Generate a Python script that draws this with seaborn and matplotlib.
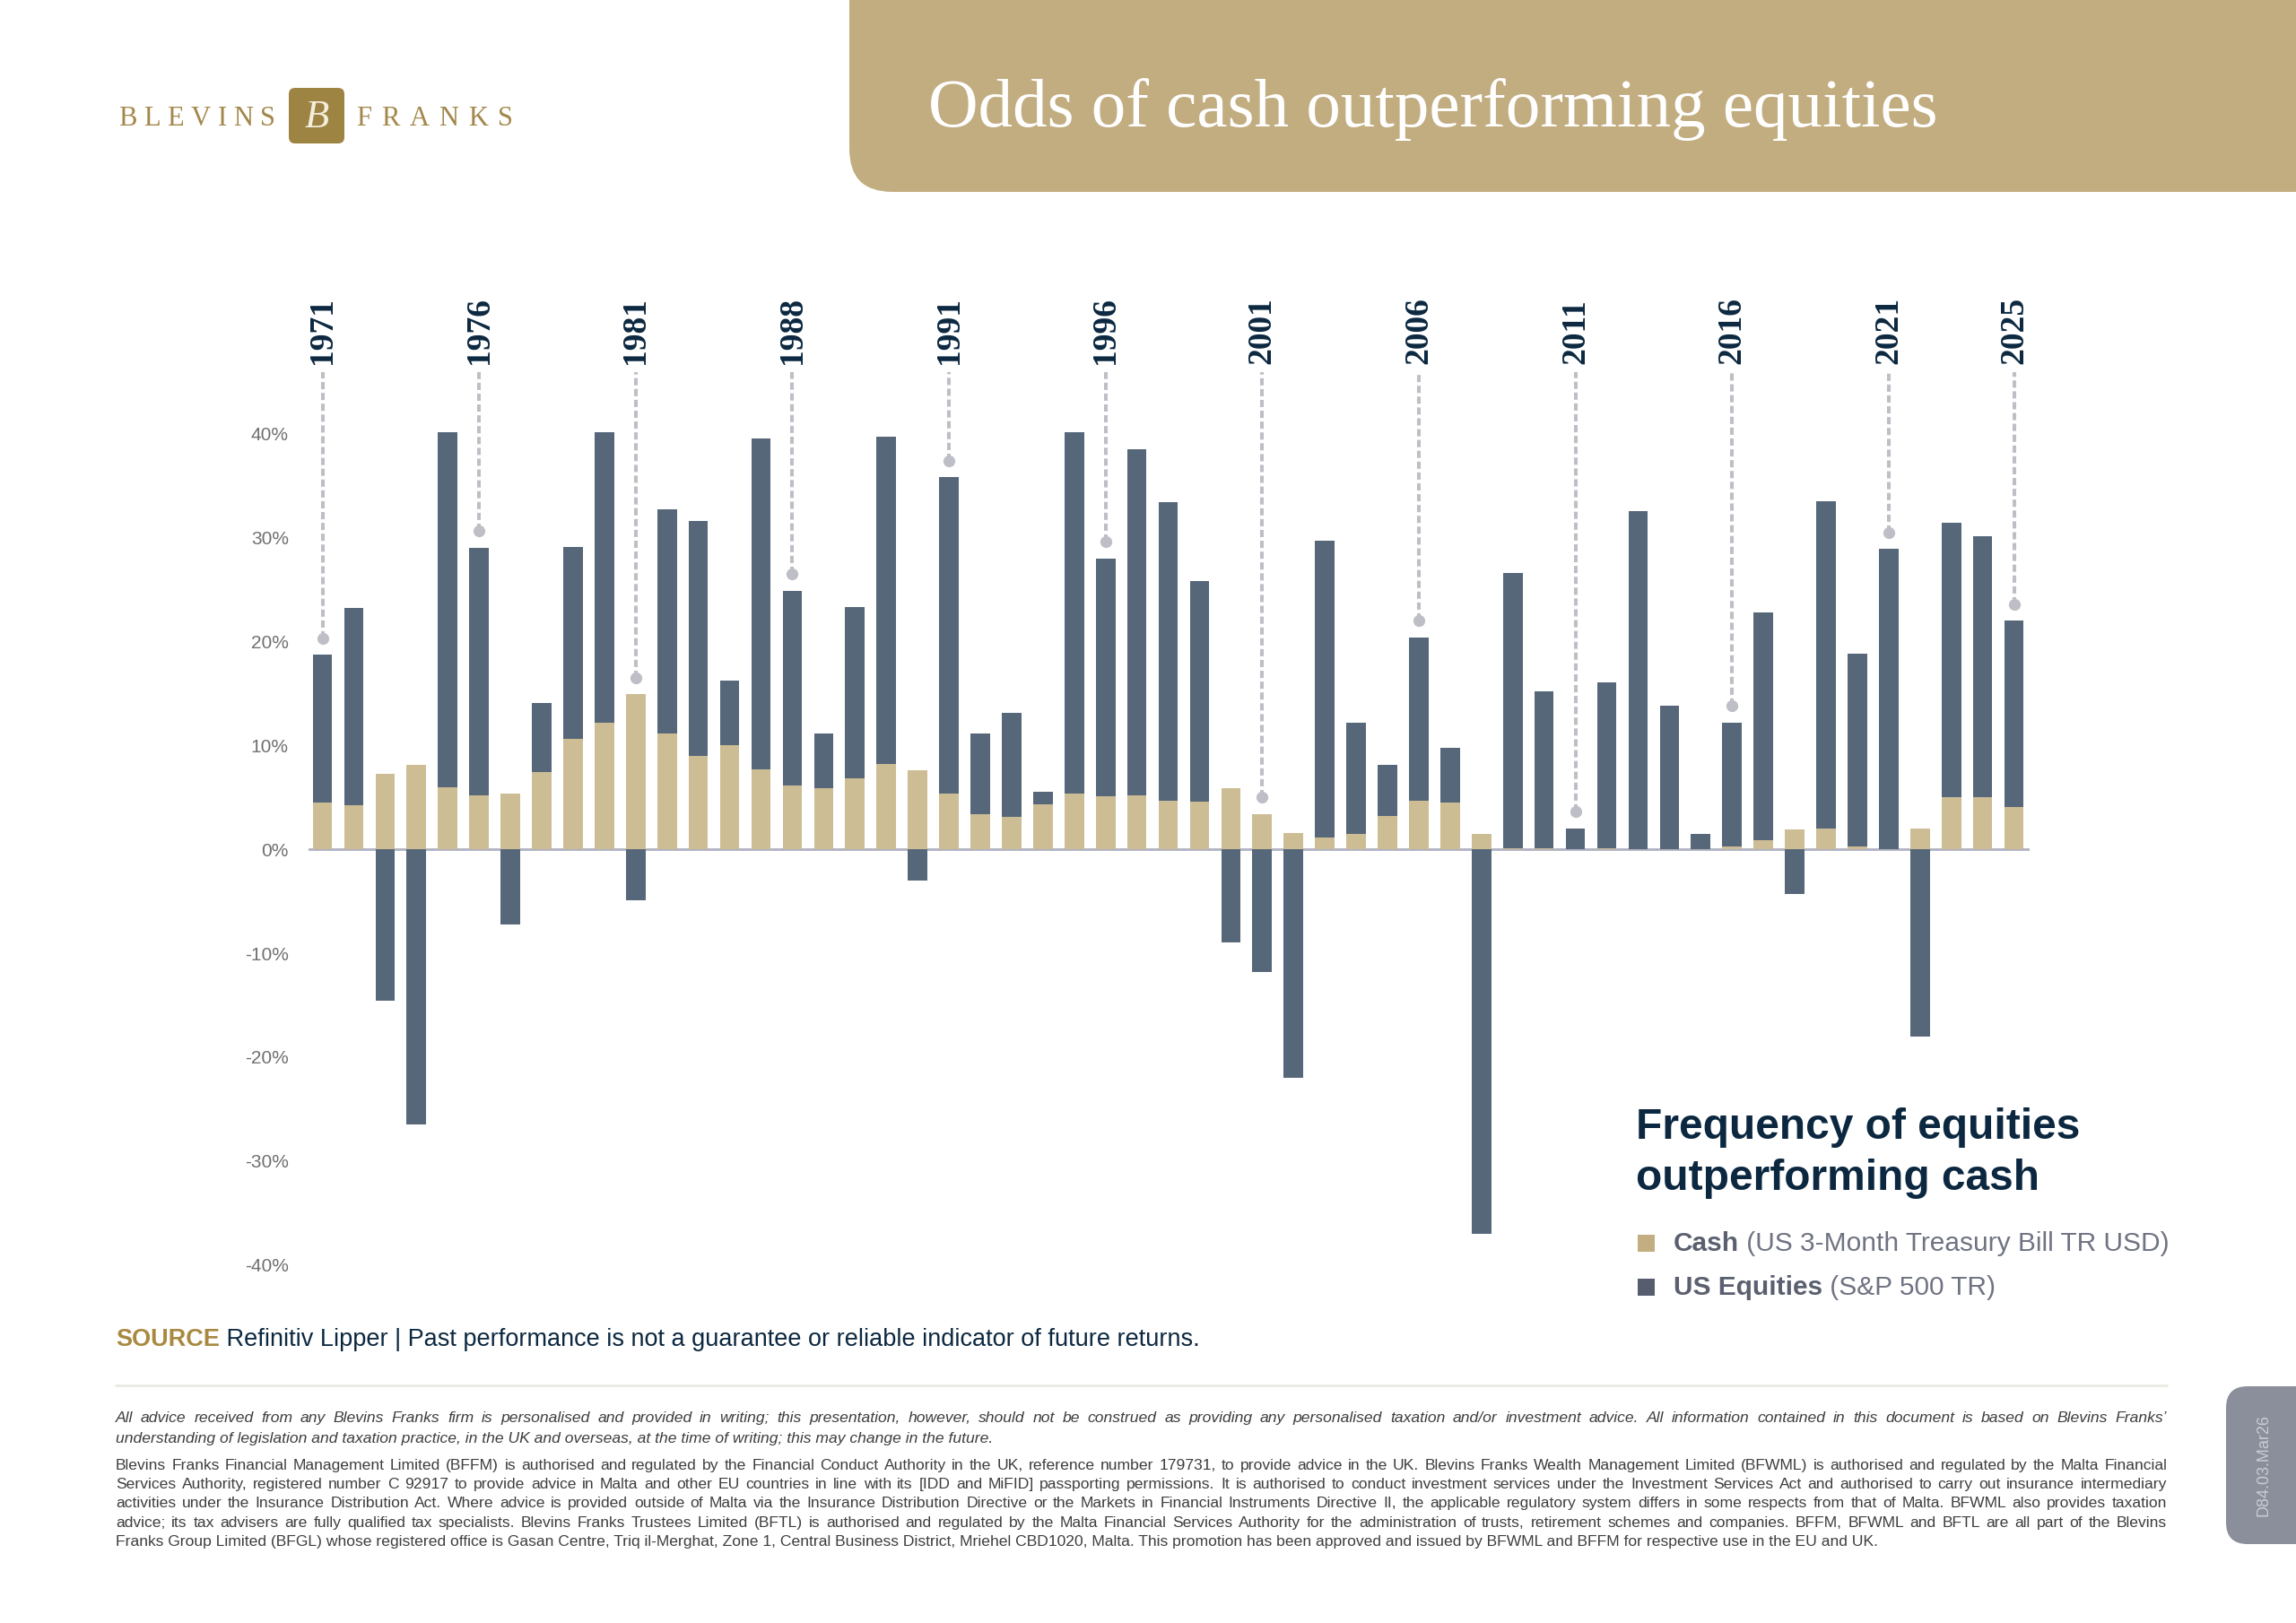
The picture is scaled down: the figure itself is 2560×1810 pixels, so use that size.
"""Odds of cash outperforming equities: US T-bills vs S&P 500, 1971-2025."""

import matplotlib

matplotlib.use("Agg")

import matplotlib.pyplot as plt
import pandas as pd
import seaborn as sns
from matplotlib.patches import FancyBboxPatch, Rectangle


# annual returns (%)
years = list(range(1971, 2026))
equities = [
    18.7, 23.2, -14.6, -26.5, 40.1, 29.0, -7.2, 14.1, 29.1, 40.1,
    -4.9, 32.7, 31.6, 16.2, 39.5, 24.9, 11.1, 23.3, 39.7, -3.0,
    35.8, 11.1, 13.1, 5.5, 40.1, 28.0, 38.5, 33.4, 25.8, -9.0,
    -11.8, -22.0, 29.7, 12.2, 8.1, 20.4, 9.8, -37.0, 26.6, 15.2,
    2.0, 16.1, 32.5, 13.8, 1.5, 12.2, 22.8, -4.3, 33.5, 18.8,
    28.9, -18.0, 31.4, 30.1, 22.0,
]
cash = [
    4.5, 4.2, 7.3, 8.1, 6.0, 5.2, 5.4, 7.4, 10.6, 12.2,
    14.9, 11.1, 9.0, 10.0, 7.7, 6.1, 5.9, 6.8, 8.2, 7.6,
    5.4, 3.4, 3.1, 4.3, 5.4, 5.1, 5.2, 4.7, 4.6, 5.9,
    3.4, 1.6, 1.1, 1.5, 3.2, 4.7, 4.5, 1.5, 0.1, 0.1,
    0.05, 0.1, 0.05, 0.05, 0.05, 0.3, 0.9, 1.9, 2.0, 0.3,
    0.05, 2.0, 5.0, 5.0, 4.1,
]
callout_years = [1971, 1976, 1981, 1986, 1991, 1996, 2001, 2006, 2011, 2016, 2021, 2025]
callout_labels = ["1971", "1976", "1981", "1988", "1991", "1996", "2001", "2006", "2011", "2016", "2021", "2025"]
y_ticks = [40, 30, 20, 10, 0, -10, -20, -30, -40]

TITLE = "Odds of cash outperforming equities"
LEGEND_TITLE = ["Frequency of equities", "outperforming cash"]
LEGEND_ITEMS = [("Cash", " (US 3-Month Treasury Bill TR USD)"), ("US Equities", " (S&P 500 TR)")]
SOURCE_TEXT = " Refinitiv Lipper | Past performance is not a guarantee or reliable indicator of future returns."
DISCLAIMER_ITALIC = [
    "All advice received from any Blevins Franks firm is personalised and provided in writing; this presentation, however, should not be construed as providing any personalised taxation and/or investment advice. All information contained in this document is based on Blevins Franks’",
    "understanding of legislation and taxation practice, in the UK and overseas, at the time of writing; this may change in the future.",
]
DISCLAIMER = [
    "Blevins Franks Financial Management Limited (BFFM) is authorised and regulated by the Financial Conduct Authority in the UK, reference number 179731, to provide advice in the UK. Blevins Franks Wealth Management Limited (BFWML) is authorised and regulated by the Malta Financial",
    "Services Authority, registered number C 92917 to provide advice in Malta and other EU countries in line with its [IDD and MiFID] passporting permissions. It is authorised to conduct investment services under the Investment Services Act and authorised to carry out insurance intermediary",
    "activities under the Insurance Distribution Act. Where advice is provided outside of Malta via the Insurance Distribution Directive or the Markets in Financial Instruments Directive II, the applicable regulatory system differs in some respects from that of Malta. BFWML also provides taxation",
    "advice; its tax advisers are fully qualified tax specialists. Blevins Franks Trustees Limited (BFTL) is authorised and regulated by the Malta Financial Services Authority for the administration of trusts, retirement schemes and companies. BFFM, BFWML and BFTL are all part of the Blevins",
    "Franks Group Limited (BFGL) whose registered office is Gasan Centre, Triq il-Merghat, Zone 1, Central Business District, Mriehel CBD1020, Malta. This promotion has been approved and issued by BFWML and BFFM for respective use in the EU and UK.",
]

EQ_COLOR = "#56677A"
CASH_COLOR = "#CDBD95"
GOLD = "#A2874A"
BANNER = "#C2AD81"
NAVY = "#0C2840"
GUIDE = "#BEBEC6"
FOOT = "#3E3E3E"
SANS = "Liberation Sans"
SERIF = "Liberation Serif"

W, H = 2560, 1810
FOOT_SIZE = 12.6


def spread(ax, renderer, x0, x1, y, pieces, **kw):
    """Lay pieces (words or letters) out evenly between x0 and x1."""
    artists = [ax.text(0, y, p, va="baseline", ha="left", **kw) for p in pieces]
    widths = [a.get_window_extent(renderer).width for a in artists]
    gap = max((x1 - x0 - sum(widths)) / (len(pieces) - 1), 3)
    x = x0
    for a, w in zip(artists, widths):
        a.set_x(x)
        x += w + gap


def main() -> None:
    sns.set_theme(style="white")
    plt.rcParams["font.family"] = [SANS, "DejaVu Sans"]

    fig = plt.figure(figsize=(W / 100, H / 100), dpi=100, facecolor="white")
    bg = fig.add_axes([0, 0, 1, 1])
    bg.set_xlim(0, W)
    bg.set_ylim(H, 0)
    bg.axis("off")
    renderer = fig.canvas.get_renderer()

    # header banner and logo
    bg.add_patch(FancyBboxPatch((947, -120), 1800, 334, boxstyle="round,pad=0,rounding_size=48",
                                fc=BANNER, ec="none"))
    bg.text(1035, 141, TITLE, color="white", fontsize=55.5, family=SERIF, va="baseline", ha="left")
    spread(bg, renderer, 132, 307, 140, list("BLEVINS"), color=GOLD, fontsize=22, family=SERIF)
    bg.add_patch(FancyBboxPatch((322, 98), 62, 62, boxstyle="round,pad=0,rounding_size=7",
                                fc="#9E8443", ec="none"))
    bg.text(353, 131, "B", color="#F4EEDF", fontsize=32, family=SERIF, style="italic",
            ha="center", va="center")
    spread(bg, renderer, 397, 572, 140, list("FRANKS"), color=GOLD, fontsize=22, family=SERIF)

    # chart
    ax = fig.add_axes([344 / W, 1 - 1434 / H, (2263 - 344) / W, (1434 - 298) / H])
    ax.patch.set_alpha(0)
    df = pd.DataFrame({"year": years, "equities": equities, "cash": cash})
    sns.barplot(data=df, x="year", y="equities", color=EQ_COLOR, saturation=1, width=0.62,
                errorbar=None, linewidth=0, ax=ax, zorder=3)
    sns.barplot(data=df, x="year", y="cash", color=CASH_COLOR, saturation=1, width=0.62,
                errorbar=None, linewidth=0, ax=ax, zorder=4)
    ax.axhline(0, color="#B0B1C2", lw=2, zorder=2)
    ax.set_xlim(-0.445, len(years) - 0.5)
    ax.set_ylim(-42, 56)
    ax.set_xticks([])
    ax.set_yticks(y_ticks)
    ax.set_yticklabels([f"{v}%" for v in y_ticks])
    ax.tick_params(axis="y", length=0, pad=16, labelsize=15, labelcolor="#707070")
    ax.set_xlabel("")
    ax.set_ylabel("")
    sns.despine(ax=ax, left=True, bottom=True)

    for year, label in zip(callout_years, callout_labels):
        i = years.index(year)
        dot_y = max(equities[i], cash[i]) + 1.6
        ax.plot([i, i], [dot_y, 45.9], color=GUIDE, lw=2.9, ls=(0, (2, 1)), zorder=5)
        ax.plot(i, dot_y, "o", ms=8.5, color=GUIDE, zorder=6)
        ax.text(i, 46.7, label, rotation=90, ha="center", va="bottom", fontsize=27,
                fontweight="bold", family=SERIF, color=NAVY)

    # legend block
    bg.text(1824, 1270, LEGEND_TITLE[0], fontsize=34.5, fontweight="bold", color=NAVY, va="baseline")
    bg.text(1824, 1327, LEGEND_TITLE[1], fontsize=34.5, fontweight="bold", color=NAVY, va="baseline")
    for (bold, rest), y, colour in zip(LEGEND_ITEMS, [1395, 1444], ["#C2AE80", "#575D6F"]):
        bg.add_patch(Rectangle((1826, y - 18), 19, 19, fc=colour, ec="none"))
        t = bg.text(1866, y, bold, fontsize=21.5, fontweight="bold", color="#5B6070", va="baseline")
        bg.annotate(rest, xy=(1, 0), xycoords=t, fontsize=21.5, color="#6F7382", va="bottom", ha="left")

    # source and disclaimer
    t = bg.text(129, 1501, "SOURCE", fontsize=19.5, fontweight="bold", color="#A8893F", va="baseline")
    bg.annotate(SOURCE_TEXT, xy=(1, 0), xycoords=t, fontsize=19.5, color=NAVY, va="bottom", ha="left")
    bg.plot([129, 2416], [1545, 1545], color="#EAEAE3", lw=2)

    spread(bg, renderer, 129, 2416, 1586, DISCLAIMER_ITALIC[0].split(), fontsize=FOOT_SIZE,
           style="italic", color=FOOT)
    bg.text(129, 1609, DISCLAIMER_ITALIC[1], fontsize=FOOT_SIZE, style="italic", color=FOOT, va="baseline")
    for k, line in enumerate(DISCLAIMER):
        y = 1639 + 21.2 * k
        if k < len(DISCLAIMER) - 1:
            spread(bg, renderer, 129, 2416, y, line.split(), fontsize=FOOT_SIZE, color=FOOT)
        else:
            bg.text(129, y, line, fontsize=FOOT_SIZE, color=FOOT, va="baseline")

    # side tab
    bg.add_patch(FancyBboxPatch((2482, 1546), 150, 176, boxstyle="round,pad=0,rounding_size=24",
                                fc="#8B8F9B", ec="none"))
    bg.text(2524, 1634, "D84.03.Mar26", rotation=90, fontsize=13, color="#C9CCD3", ha="center", va="center")

    fig.savefig("out.png", dpi=100, facecolor="white")
    plt.close(fig)


if __name__ == "__main__":
    main()
